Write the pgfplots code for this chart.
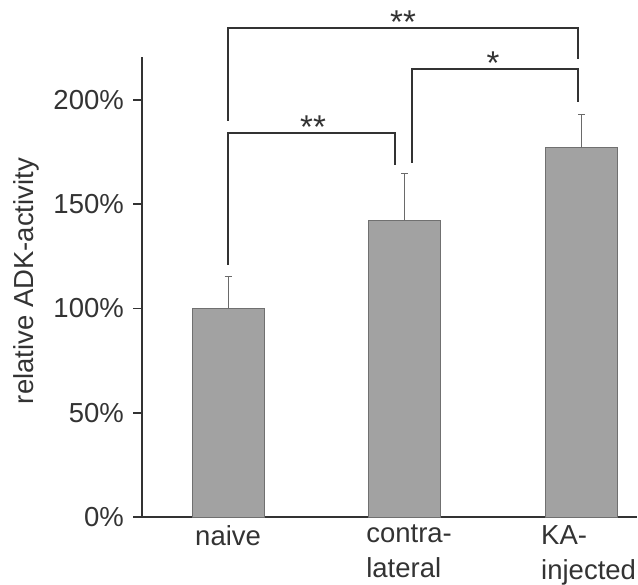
\documentclass[border=0pt]{standalone}
\usepackage{fontspec}
\setmainfont{Liberation Sans}
\usepackage{pgfplots}
\pgfplotsset{compat=1.18}
\definecolor{barfill}{HTML}{A2A2A2}
\definecolor{baredge}{HTML}{707070}
\definecolor{ink}{HTML}{333333}
\definecolor{errc}{HTML}{6A6A6A}
\begin{document}
\begin{tikzpicture}
\useasboundingbox (0,0) rectangle (638pt,-585pt);
\begin{axis}[
 at={(142pt,-517pt)}, anchor=south west,
 scale only axis, width=495pt, height=460pt,
 xmin=-0.487, xmax=2.314, ymin=0, ymax=220.6,
 axis x line=bottom, axis y line=left,
 axis line style={-, line width=2pt, draw=ink},
 clip=false,
 xtick=\empty,
 ytick={0,50,100,150,200},
 yticklabels={0\%,50\%,100\%,150\%,200\%},
 major tick length=0pt,
 yticklabel style={font=\fontsize{27.5}{32}\selectfont, text=ink, inner sep=0pt, xshift=-18pt},
 ylabel={relative ADK-activity},
 every axis y label/.style={at={(axis description cs:-0.234,0.513)}, rotate=90, anchor=center, font=\fontsize{27.5}{32}\selectfont, text=ink},
]
\addplot[ybar, bar width=72pt, fill=barfill, draw=baredge, line width=1pt,
  error bars/.cd, y dir=plus, y explicit,
  error bar style={line width=1pt, errc},
  error mark options={rotate=90, mark size=3.5pt, line width=1pt, errc}]
 coordinates {(0,100.2) +- (0,15) (1,142.4) +- (0,22.1) (2,177) +- (0,16)};
% tick anchor points on the y axis
\coordinate (t0) at (axis cs:-0.487,0);
\coordinate (t1) at (axis cs:-0.487,50);
\coordinate (t2) at (axis cs:-0.487,100);
\coordinate (t3) at (axis cs:-0.487,150);
\coordinate (t4) at (axis cs:-0.487,200);
% significance brackets
\addplot[ink, line width=2pt, mark=none] coordinates {(0,120.9) (0,184) (0.945,184) (0.945,168.8)};
\addplot[ink, line width=2pt, mark=none] coordinates {(1.04,169.8) (1.04,214.9) (1.98,214.9) (1.98,199)};
\addplot[ink, line width=2pt, mark=none] coordinates {(0,190) (0,234.5) (1.98,234.5) (1.98,219.7)};
\node[anchor=base, inner sep=0pt, font=\fontsize{33}{36}\selectfont, text=ink] at (axis cs:0.481,181.5) {**};
\node[anchor=base, inner sep=0pt, font=\fontsize{33}{36}\selectfont, text=ink] at (axis cs:1.5,212.4) {*};
\node[anchor=base, inner sep=0pt, font=\fontsize{33}{36}\selectfont, text=ink] at (axis cs:0.99,232) {**};
% category labels
\node[anchor=north west, align=left, inner sep=0pt, yshift=-8pt, font=\fontsize{27.5}{35}\selectfont, text=ink] at (axis cs:-0.187,0) {naive};
\node[anchor=north west, align=left, inner sep=0pt, yshift=-8pt, font=\fontsize{27.5}{35}\selectfont, text=ink] at (axis cs:0.781,0) {contra-\\lateral};
\node[anchor=north west, align=left, inner sep=0pt, yshift=-8pt, font=\fontsize{27.5}{35}\selectfont, text=ink] at (axis cs:1.771,0) {KA-\\injected};
\end{axis}
% short outside y ticks
\foreach \t in {t0,t1,t2,t3,t4}{
  \draw[ink, line width=1.8pt] ([xshift=-9pt]\t) -- (\t);
}
\end{tikzpicture}
\end{document}
